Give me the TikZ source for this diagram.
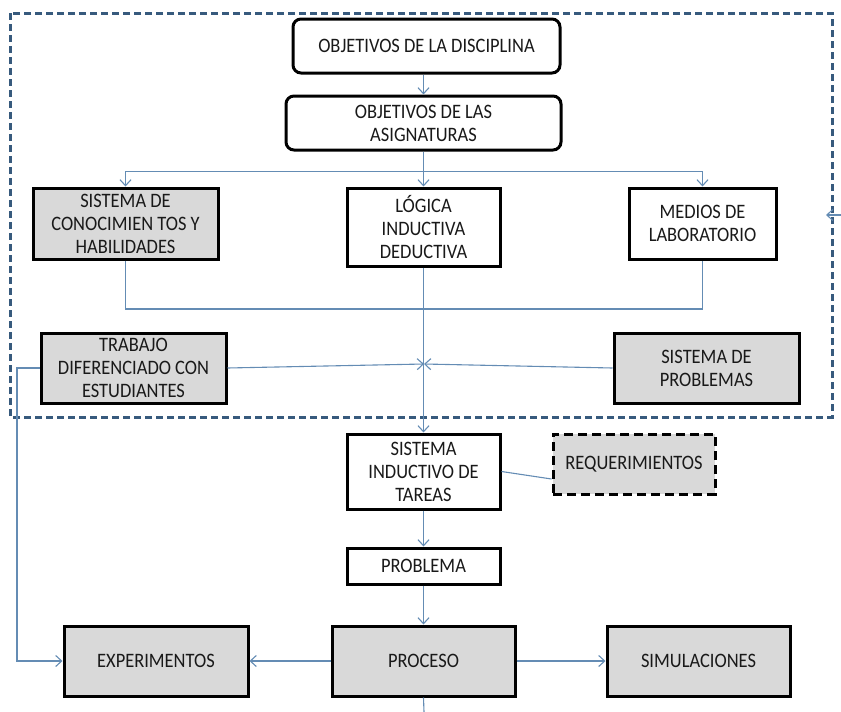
\documentclass[tikz,border=0pt]{standalone}
\usepackage{fontspec}
\setmainfont{Carlito}[FakeStretch=0.9]
\usetikzlibrary{arrows.meta,calc}
\definecolor{conncol}{RGB}{100,140,180}
\definecolor{framecol}{RGB}{55,90,125}
\definecolor{boxgray}{RGB}{217,217,217}
\begin{document}
\begin{tikzpicture}[x=1pt,y=-1pt,
  box/.style={draw=black, line width=3pt, inner sep=0pt, align=center, text=black!90, font=\fontsize{20.5}{23}\selectfont},
  wbox/.style={box, fill=white},
  gbox/.style={box, fill=boxgray},
  rbox/.style={box, fill=white, rounded corners=8pt},
  conn/.style={draw=conncol, line width=1.1pt},
  arr/.style={conn, -{Straight Barb[length=6pt,width=11pt]}},
]
\useasboundingbox (0,0) rectangle (841,712);
\draw[framecol, line width=3pt, dash pattern=on 7pt off 4pt] (10,13) rectangle (832,417);

\node[rbox, minimum width=267pt, minimum height=54pt] (disc) at (426.5,46) {OBJETIVOS DE LA DISCIPLINA};
\node[rbox, minimum width=275pt, minimum height=54pt] (asig) at (423.5,123) {OBJETIVOS DE LAS\\ASIGNATURAS};
\node[gbox, minimum width=185pt, minimum height=71pt] (sch) at (125.5,223.5) {SISTEMA DE\\CONOCIMIEN TOS Y\\HABILIDADES};
\node[wbox, minimum width=153pt, minimum height=78pt] (log) at (423.5,227) {LÓGICA\\INDUCTIVA\\DEDUCTIVA};
\node[wbox, minimum width=147pt, minimum height=71pt] (med) at (702.5,223.5) {MEDIOS DE\\LABORATORIO};
\node[gbox, minimum width=185pt, minimum height=70pt] (tra) at (133.5,368) {TRABAJO\\DIFERENCIADO CON\\ESTUDIANTES};
\node[gbox, minimum width=185pt, minimum height=70pt] (sdp) at (706.5,368) {SISTEMA DE\\PROBLEMAS};
\node[wbox, minimum width=153pt, minimum height=75pt] (sit) at (423.5,471.5) {SISTEMA\\INDUCTIVO DE\\TAREAS};
\node[gbox, dash pattern=on 9pt off 5pt, minimum width=162pt, minimum height=60pt] (req) at (634,464) {REQUERIMIENTOS};
\node[wbox, minimum width=153pt, minimum height=36pt] (prob) at (423.5,566) {PROBLEMA};
\node[gbox, minimum width=183pt, minimum height=70pt] (pro) at (423.5,661) {PROCESO};
\node[gbox, minimum width=184pt, minimum height=70pt] (exp) at (156,661) {EXPERIMENTOS};
\node[gbox, minimum width=183pt, minimum height=70pt] (sim) at (698.5,661) {SIMULACIONES};

\draw[arr] (asig.north |- disc.south) -- (asig.north);
\draw[conn] (asig.south) -- ++(0,20) coordinate (br);
\draw[arr] (br) -| (sch.north);
\draw[arr] (br) -| (med.north);
\draw[arr] (br) -- (log.north);
\coordinate (jy) at (0,309);
\draw[conn] (sch.south) |- (jy -| log.south) -| (med.south);
\draw[arr] (log.south) -- (sit.north);
\coordinate (mid) at (424,364);
\draw[arr] (tra.east) -- (mid);
\draw[arr] (sdp.west) -- (mid);
\coordinate (lft) at (17,368);
\draw[arr] (tra.west) -- (lft) |- (exp.west);
\draw[conn] (sit.east) -- ($(req.west)+(0,15)$);
\draw[arr] (sit.south) -- (prob.north);
\draw[arr] (prob.south) -- (pro.north);
\draw[arr] (pro.west) -- (exp.east);
\draw[arr] (pro.east) -- (sim.west);
\coordinate (bot) at (424,712);
\draw[conn] (pro.south) -- (bot);
\coordinate (rt) at (841,215);
\coordinate (rtt) at (826,215);
\draw[arr] (rt) -- (rtt);
\end{tikzpicture}
\end{document}
